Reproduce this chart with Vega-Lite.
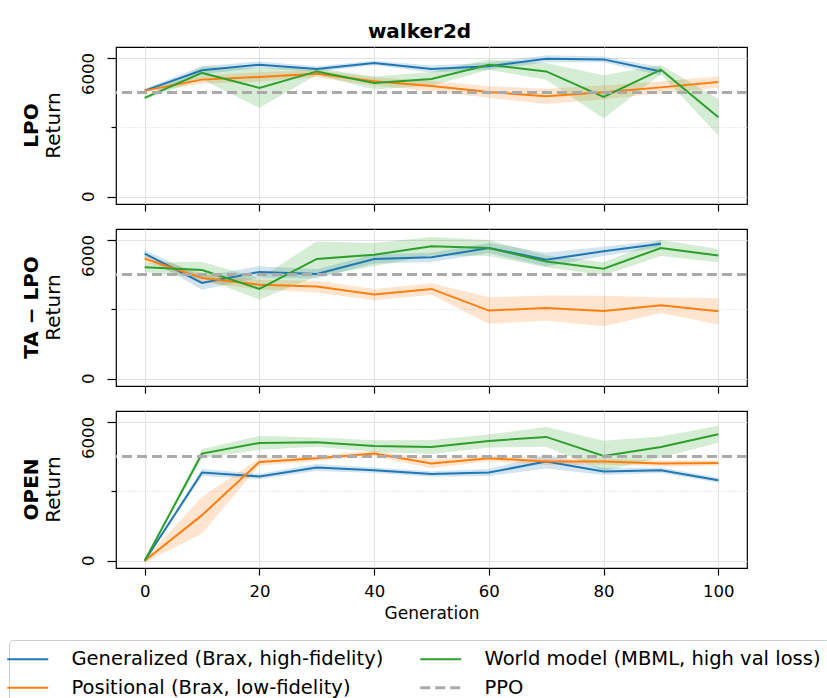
{
  "$schema": "https://vega.github.io/schema/vega-lite/v6.json",
  "autosize": {"type": "pad"},
  "padding": {"left": 8, "top": 22, "right": 0, "bottom": 0},
  "background": "white",
  "title": {"text": "walker2d", "font": "DejaVu Sans", "fontSize": 20, "fontWeight": "bold", "anchor": "middle", "offset": 4, "color": "black"},
  "bounds": "flush",
  "spacing": 25,
  "config": {
    "font": "DejaVu Sans",
    "view": {"stroke": "black", "strokeWidth": 1.2},
    "axisY": {"labels": false}
  },
  "datasets": {
    "runs": [
      {"panel": "LPO", "method": "Generalized (Brax, high-fidelity)", "gen": 0, "mean": 4590, "lo": 4510, "hi": 4670},
      {"panel": "LPO", "method": "Generalized (Brax, high-fidelity)", "gen": 10, "mean": 5470, "lo": 5300, "hi": 5640},
      {"panel": "LPO", "method": "Generalized (Brax, high-fidelity)", "gen": 20, "mean": 5710, "lo": 5570, "hi": 5850},
      {"panel": "LPO", "method": "Generalized (Brax, high-fidelity)", "gen": 30, "mean": 5525, "lo": 5405, "hi": 5645},
      {"panel": "LPO", "method": "Generalized (Brax, high-fidelity)", "gen": 40, "mean": 5785, "lo": 5685, "hi": 5885},
      {"panel": "LPO", "method": "Generalized (Brax, high-fidelity)", "gen": 50, "mean": 5525, "lo": 5375, "hi": 5675},
      {"panel": "LPO", "method": "Generalized (Brax, high-fidelity)", "gen": 60, "mean": 5640, "lo": 5490, "hi": 5790},
      {"panel": "LPO", "method": "Generalized (Brax, high-fidelity)", "gen": 70, "mean": 5970, "lo": 5820, "hi": 6120},
      {"panel": "LPO", "method": "Generalized (Brax, high-fidelity)", "gen": 80, "mean": 5940, "lo": 5820, "hi": 6060},
      {"panel": "LPO", "method": "Generalized (Brax, high-fidelity)", "gen": 90, "mean": 5420, "lo": 5240, "hi": 5600},
      {"panel": "LPO", "method": "Positional (Brax, low-fidelity)", "gen": 0, "mean": 4590, "lo": 4530, "hi": 4650},
      {"panel": "LPO", "method": "Positional (Brax, low-fidelity)", "gen": 10, "mean": 5065, "lo": 4885, "hi": 5245},
      {"panel": "LPO", "method": "Positional (Brax, low-fidelity)", "gen": 20, "mean": 5180, "lo": 4980, "hi": 5380},
      {"panel": "LPO", "method": "Positional (Brax, low-fidelity)", "gen": 30, "mean": 5320, "lo": 5170, "hi": 5470},
      {"panel": "LPO", "method": "Positional (Brax, low-fidelity)", "gen": 40, "mean": 4990, "lo": 4810, "hi": 5170},
      {"panel": "LPO", "method": "Positional (Brax, low-fidelity)", "gen": 50, "mean": 4790, "lo": 4570, "hi": 5010},
      {"panel": "LPO", "method": "Positional (Brax, low-fidelity)", "gen": 60, "mean": 4530, "lo": 4280, "hi": 4780},
      {"panel": "LPO", "method": "Positional (Brax, low-fidelity)", "gen": 70, "mean": 4345, "lo": 4015, "hi": 4675},
      {"panel": "LPO", "method": "Positional (Brax, low-fidelity)", "gen": 80, "mean": 4515, "lo": 4215, "hi": 4815},
      {"panel": "LPO", "method": "Positional (Brax, low-fidelity)", "gen": 90, "mean": 4730, "lo": 4480, "hi": 4980},
      {"panel": "LPO", "method": "Positional (Brax, low-fidelity)", "gen": 100, "mean": 4965, "lo": 4715, "hi": 5215},
      {"panel": "LPO", "method": "World model (MBML, high val loss)", "gen": 0, "mean": 4275, "lo": 4215, "hi": 4335},
      {"panel": "LPO", "method": "World model (MBML, high val loss)", "gen": 10, "mean": 5355, "lo": 5075, "hi": 5635},
      {"panel": "LPO", "method": "World model (MBML, high val loss)", "gen": 20, "mean": 4705, "lo": 3845, "hi": 5565},
      {"panel": "LPO", "method": "World model (MBML, high val loss)", "gen": 30, "mean": 5420, "lo": 5270, "hi": 5570},
      {"panel": "LPO", "method": "World model (MBML, high val loss)", "gen": 40, "mean": 4920, "lo": 4640, "hi": 5200},
      {"panel": "LPO", "method": "World model (MBML, high val loss)", "gen": 50, "mean": 5095, "lo": 4795, "hi": 5395},
      {"panel": "LPO", "method": "World model (MBML, high val loss)", "gen": 60, "mean": 5710, "lo": 5490, "hi": 5930},
      {"panel": "LPO", "method": "World model (MBML, high val loss)", "gen": 70, "mean": 5420, "lo": 5060, "hi": 5780},
      {"panel": "LPO", "method": "World model (MBML, high val loss)", "gen": 80, "mean": 4320, "lo": 3390, "hi": 5250},
      {"panel": "LPO", "method": "World model (MBML, high val loss)", "gen": 90, "mean": 5495, "lo": 5295, "hi": 5695},
      {"panel": "LPO", "method": "World model (MBML, high val loss)", "gen": 100, "mean": 3440, "lo": 2650, "hi": 4230},

      {"panel": "TA-LPO", "method": "Generalized (Brax, high-fidelity)", "gen": 0, "mean": 5410, "lo": 5260, "hi": 5560},
      {"panel": "TA-LPO", "method": "Generalized (Brax, high-fidelity)", "gen": 10, "mean": 4145, "lo": 3855, "hi": 4435},
      {"panel": "TA-LPO", "method": "Generalized (Brax, high-fidelity)", "gen": 20, "mean": 4620, "lo": 4370, "hi": 4870},
      {"panel": "TA-LPO", "method": "Generalized (Brax, high-fidelity)", "gen": 30, "mean": 4535, "lo": 4335, "hi": 4735},
      {"panel": "TA-LPO", "method": "Generalized (Brax, high-fidelity)", "gen": 40, "mean": 5180, "lo": 4980, "hi": 5380},
      {"panel": "TA-LPO", "method": "Generalized (Brax, high-fidelity)", "gen": 50, "mean": 5250, "lo": 5050, "hi": 5450},
      {"panel": "TA-LPO", "method": "Generalized (Brax, high-fidelity)", "gen": 60, "mean": 5655, "lo": 5435, "hi": 5875},
      {"panel": "TA-LPO", "method": "Generalized (Brax, high-fidelity)", "gen": 70, "mean": 5150, "lo": 4850, "hi": 5450},
      {"panel": "TA-LPO", "method": "Generalized (Brax, high-fidelity)", "gen": 80, "mean": 5510, "lo": 5310, "hi": 5710},
      {"panel": "TA-LPO", "method": "Generalized (Brax, high-fidelity)", "gen": 90, "mean": 5840, "lo": 5690, "hi": 5990},
      {"panel": "TA-LPO", "method": "Positional (Brax, low-fidelity)", "gen": 0, "mean": 5195, "lo": 5045, "hi": 5345},
      {"panel": "TA-LPO", "method": "Positional (Brax, low-fidelity)", "gen": 10, "mean": 4360, "lo": 4160, "hi": 4560},
      {"panel": "TA-LPO", "method": "Positional (Brax, low-fidelity)", "gen": 20, "mean": 4070, "lo": 3870, "hi": 4270},
      {"panel": "TA-LPO", "method": "Positional (Brax, low-fidelity)", "gen": 30, "mean": 3985, "lo": 3735, "hi": 4235},
      {"panel": "TA-LPO", "method": "Positional (Brax, low-fidelity)", "gen": 40, "mean": 3640, "lo": 3400, "hi": 3880},
      {"panel": "TA-LPO", "method": "Positional (Brax, low-fidelity)", "gen": 50, "mean": 3885, "lo": 3635, "hi": 4135},
      {"panel": "TA-LPO", "method": "Positional (Brax, low-fidelity)", "gen": 60, "mean": 2950, "lo": 2375, "hi": 3525},
      {"panel": "TA-LPO", "method": "Positional (Brax, low-fidelity)", "gen": 70, "mean": 3065, "lo": 2525, "hi": 3605},
      {"panel": "TA-LPO", "method": "Positional (Brax, low-fidelity)", "gen": 80, "mean": 2935, "lo": 2275, "hi": 3595},
      {"panel": "TA-LPO", "method": "Positional (Brax, low-fidelity)", "gen": 90, "mean": 3180, "lo": 2850, "hi": 3510},
      {"panel": "TA-LPO", "method": "Positional (Brax, low-fidelity)", "gen": 100, "mean": 2920, "lo": 2345, "hi": 3495},
      {"panel": "TA-LPO", "method": "World model (MBML, high val loss)", "gen": 0, "mean": 4820, "lo": 4620, "hi": 5020},
      {"panel": "TA-LPO", "method": "World model (MBML, high val loss)", "gen": 10, "mean": 4705, "lo": 4355, "hi": 5055},
      {"panel": "TA-LPO", "method": "World model (MBML, high val loss)", "gen": 20, "mean": 3885, "lo": 3425, "hi": 4345},
      {"panel": "TA-LPO", "method": "World model (MBML, high val loss)", "gen": 30, "mean": 5180, "lo": 4420, "hi": 5940},
      {"panel": "TA-LPO", "method": "World model (MBML, high val loss)", "gen": 40, "mean": 5365, "lo": 4865, "hi": 5865},
      {"panel": "TA-LPO", "method": "World model (MBML, high val loss)", "gen": 50, "mean": 5725, "lo": 5325, "hi": 6125},
      {"panel": "TA-LPO", "method": "World model (MBML, high val loss)", "gen": 60, "mean": 5655, "lo": 5305, "hi": 6005},
      {"panel": "TA-LPO", "method": "World model (MBML, high val loss)", "gen": 70, "mean": 5075, "lo": 4825, "hi": 5325},
      {"panel": "TA-LPO", "method": "World model (MBML, high val loss)", "gen": 80, "mean": 4760, "lo": 4480, "hi": 5040},
      {"panel": "TA-LPO", "method": "World model (MBML, high val loss)", "gen": 90, "mean": 5655, "lo": 5305, "hi": 6005},
      {"panel": "TA-LPO", "method": "World model (MBML, high val loss)", "gen": 100, "mean": 5325, "lo": 5035, "hi": 5615},

      {"panel": "OPEN", "method": "Generalized (Brax, high-fidelity)", "gen": 0, "mean": 0, "lo": -20, "hi": 20},
      {"panel": "OPEN", "method": "Generalized (Brax, high-fidelity)", "gen": 10, "mean": 3815, "lo": 3665, "hi": 3965},
      {"panel": "OPEN", "method": "Generalized (Brax, high-fidelity)", "gen": 20, "mean": 3645, "lo": 3525, "hi": 3765},
      {"panel": "OPEN", "method": "Generalized (Brax, high-fidelity)", "gen": 30, "mean": 4030, "lo": 3880, "hi": 4180},
      {"panel": "OPEN", "method": "Generalized (Brax, high-fidelity)", "gen": 40, "mean": 3915, "lo": 3795, "hi": 4035},
      {"panel": "OPEN", "method": "Generalized (Brax, high-fidelity)", "gen": 50, "mean": 3755, "lo": 3635, "hi": 3875},
      {"panel": "OPEN", "method": "Generalized (Brax, high-fidelity)", "gen": 60, "mean": 3815, "lo": 3665, "hi": 3965},
      {"panel": "OPEN", "method": "Generalized (Brax, high-fidelity)", "gen": 70, "mean": 4290, "lo": 3990, "hi": 4590},
      {"panel": "OPEN", "method": "Generalized (Brax, high-fidelity)", "gen": 80, "mean": 3860, "lo": 3710, "hi": 4010},
      {"panel": "OPEN", "method": "Generalized (Brax, high-fidelity)", "gen": 90, "mean": 3915, "lo": 3795, "hi": 4035},
      {"panel": "OPEN", "method": "Generalized (Brax, high-fidelity)", "gen": 100, "mean": 3485, "lo": 3385, "hi": 3585},
      {"panel": "OPEN", "method": "Positional (Brax, low-fidelity)", "gen": 0, "mean": 0, "lo": -80, "hi": 80},
      {"panel": "OPEN", "method": "Positional (Brax, low-fidelity)", "gen": 10, "mean": 1975, "lo": 1185, "hi": 2765},
      {"panel": "OPEN", "method": "Positional (Brax, low-fidelity)", "gen": 20, "mean": 4275, "lo": 4125, "hi": 4425},
      {"panel": "OPEN", "method": "Positional (Brax, low-fidelity)", "gen": 30, "mean": 4435, "lo": 4315, "hi": 4555},
      {"panel": "OPEN", "method": "Positional (Brax, low-fidelity)", "gen": 40, "mean": 4635, "lo": 4515, "hi": 4755},
      {"panel": "OPEN", "method": "Positional (Brax, low-fidelity)", "gen": 50, "mean": 4205, "lo": 4005, "hi": 4405},
      {"panel": "OPEN", "method": "Positional (Brax, low-fidelity)", "gen": 60, "mean": 4435, "lo": 4315, "hi": 4555},
      {"panel": "OPEN", "method": "Positional (Brax, low-fidelity)", "gen": 70, "mean": 4290, "lo": 4140, "hi": 4440},
      {"panel": "OPEN", "method": "Positional (Brax, low-fidelity)", "gen": 80, "mean": 4290, "lo": 4160, "hi": 4420},
      {"panel": "OPEN", "method": "Positional (Brax, low-fidelity)", "gen": 90, "mean": 4205, "lo": 4075, "hi": 4335},
      {"panel": "OPEN", "method": "Positional (Brax, low-fidelity)", "gen": 100, "mean": 4230, "lo": 4110, "hi": 4350},
      {"panel": "OPEN", "method": "World model (MBML, high val loss)", "gen": 0, "mean": 0, "lo": -20, "hi": 20},
      {"panel": "OPEN", "method": "World model (MBML, high val loss)", "gen": 10, "mean": 4635, "lo": 4435, "hi": 4835},
      {"panel": "OPEN", "method": "World model (MBML, high val loss)", "gen": 20, "mean": 5095, "lo": 4795, "hi": 5395},
      {"panel": "OPEN", "method": "World model (MBML, high val loss)", "gen": 30, "mean": 5125, "lo": 4925, "hi": 5325},
      {"panel": "OPEN", "method": "World model (MBML, high val loss)", "gen": 40, "mean": 4965, "lo": 4715, "hi": 5215},
      {"panel": "OPEN", "method": "World model (MBML, high val loss)", "gen": 50, "mean": 4920, "lo": 4620, "hi": 5220},
      {"panel": "OPEN", "method": "World model (MBML, high val loss)", "gen": 60, "mean": 5180, "lo": 4900, "hi": 5460},
      {"panel": "OPEN", "method": "World model (MBML, high val loss)", "gen": 70, "mean": 5355, "lo": 4925, "hi": 5785},
      {"panel": "OPEN", "method": "World model (MBML, high val loss)", "gen": 80, "mean": 4535, "lo": 3885, "hi": 5185},
      {"panel": "OPEN", "method": "World model (MBML, high val loss)", "gen": 90, "mean": 4920, "lo": 4470, "hi": 5370},
      {"panel": "OPEN", "method": "World model (MBML, high val loss)", "gen": 100, "mean": 5470, "lo": 5100, "hi": 5840}
    ],
    "ppo": [
      {"method": "PPO", "ret": 4510}
    ],
    "yticks": [
      {"tick": 6000, "label": "6000"},
      {"tick": 0, "label": "0"}
    ]
  },
  "vconcat": [
    {
      "width": 631,
      "height": 157,
      "title": {"text": "LPO", "subtitle": "Return", "orient": "left", "anchor": "middle", "font": "DejaVu Sans", "fontSize": 20, "fontWeight": "bold", "color": "black", "subtitleFont": "DejaVu Sans", "subtitleFontSize": 20, "subtitleFontWeight": "normal", "subtitleColor": "black", "subtitlePadding": 2, "offset": 17},
      "layer": [
        {
          "data": {"name": "runs"},
          "transform": [{"filter": "datum.panel === 'LPO'"}],
          "mark": {"type": "area", "opacity": 0.2},
          "encoding": {
            "x": {"field": "gen", "type": "quantitative", "scale": {"domain": [-5, 105], "nice": false, "zero": false}, "axis": {"title": null, "values": [0, 20, 40, 60, 80, 100], "labels": false, "tickColor": "black", "tickSize": 7, "tickWidth": 1.2, "domain": false, "grid": true, "gridColor": "#e2e2e2", "gridWidth": 1}},
            "y": {"field": "lo", "type": "quantitative", "scale": {"domain": [-310, 6475], "nice": false, "zero": false}, "axis": {"title": null, "values": [0, 1500, 3000, 4500, 6000], "labels": false, "tickColor": "black", "tickWidth": 1.2, "tickSize": {"condition": {"test": "datum.value == 0 || datum.value == 6000", "value": 9}, "value": 5}, "domain": false, "grid": true, "gridColor": {"condition": {"test": "datum.value == 0 || datum.value == 6000", "value": "#e2e2e2"}, "value": "#d8d8d8"}, "gridDash": {"condition": {"test": "datum.value == 0 || datum.value == 6000", "value": []}, "value": [1, 2]}, "gridWidth": 1}},
            "y2": {"field": "hi"},
            "color": {"field": "method", "type": "nominal"}
          }
        },
        {
          "data": {"name": "runs"},
          "transform": [{"filter": "datum.panel === 'LPO'"}],
          "mark": {"type": "line", "strokeWidth": 2},
          "encoding": {
            "x": {"field": "gen", "type": "quantitative"},
            "y": {"field": "mean", "type": "quantitative", "axis": {"labels": false}},
            "color": {"field": "method", "type": "nominal"}
          }
        },
        {
          "data": {"name": "ppo"},
          "mark": {"type": "rule", "strokeDash": [10, 5], "strokeWidth": 3},
          "encoding": {
            "y": {"field": "ret", "type": "quantitative", "axis": {"labels": false}},
            "color": {"field": "method", "type": "nominal"}
          }
        },
        {
          "data": {"name": "yticks"},
          "transform": [{"filter": "datum.tick == 6000"}],
          "mark": {"type": "text", "angle": 270, "align": "right", "baseline": "middle", "dx": 5, "dy": -27, "font": "DejaVu Sans", "fontSize": 16.5, "color": "black"},
          "encoding": {
            "x": {"datum": -5, "type": "quantitative"},
            "y": {"field": "tick", "type": "quantitative", "axis": {"labels": false}},
            "text": {"field": "label"}
          }
        },
        {
          "data": {"name": "yticks"},
          "transform": [{"filter": "datum.tick == 0"}],
          "mark": {"type": "text", "angle": 270, "align": "center", "baseline": "middle", "dy": -27, "font": "DejaVu Sans", "fontSize": 16.5, "color": "black"},
          "encoding": {
            "x": {"datum": -5, "type": "quantitative"},
            "y": {"field": "tick", "type": "quantitative", "axis": {"labels": false}},
            "text": {"field": "label"}
          }
        }
      ]
    },
    {
      "width": 631,
      "height": 157,
      "title": {"text": "TA − LPO", "subtitle": "Return", "orient": "left", "anchor": "middle", "font": "DejaVu Sans", "fontSize": 20, "fontWeight": "bold", "color": "black", "subtitleFont": "DejaVu Sans", "subtitleFontSize": 20, "subtitleFontWeight": "normal", "subtitleColor": "black", "subtitlePadding": 2, "offset": 17},
      "layer": [
        {
          "data": {"name": "runs"},
          "transform": [{"filter": "datum.panel === 'TA-LPO'"}],
          "mark": {"type": "area", "opacity": 0.2},
          "encoding": {
            "x": {"field": "gen", "type": "quantitative", "scale": {"domain": [-5, 105], "nice": false, "zero": false}, "axis": {"title": null, "values": [0, 20, 40, 60, 80, 100], "labels": false, "tickColor": "black", "tickSize": 7, "tickWidth": 1.2, "domain": false, "grid": true, "gridColor": "#e2e2e2", "gridWidth": 1}},
            "y": {"field": "lo", "type": "quantitative", "scale": {"domain": [-310, 6475], "nice": false, "zero": false}, "axis": {"title": null, "values": [0, 1500, 3000, 4500, 6000], "labels": false, "tickColor": "black", "tickWidth": 1.2, "tickSize": {"condition": {"test": "datum.value == 0 || datum.value == 6000", "value": 9}, "value": 5}, "domain": false, "grid": true, "gridColor": {"condition": {"test": "datum.value == 0 || datum.value == 6000", "value": "#e2e2e2"}, "value": "#d8d8d8"}, "gridDash": {"condition": {"test": "datum.value == 0 || datum.value == 6000", "value": []}, "value": [1, 2]}, "gridWidth": 1}},
            "y2": {"field": "hi"},
            "color": {"field": "method", "type": "nominal"}
          }
        },
        {
          "data": {"name": "runs"},
          "transform": [{"filter": "datum.panel === 'TA-LPO'"}],
          "mark": {"type": "line", "strokeWidth": 2},
          "encoding": {
            "x": {"field": "gen", "type": "quantitative"},
            "y": {"field": "mean", "type": "quantitative", "axis": {"labels": false}},
            "color": {"field": "method", "type": "nominal"}
          }
        },
        {
          "data": {"name": "ppo"},
          "mark": {"type": "rule", "strokeDash": [10, 5], "strokeWidth": 3},
          "encoding": {
            "y": {"field": "ret", "type": "quantitative", "axis": {"labels": false}},
            "color": {"field": "method", "type": "nominal"}
          }
        },
        {
          "data": {"name": "yticks"},
          "transform": [{"filter": "datum.tick == 6000"}],
          "mark": {"type": "text", "angle": 270, "align": "right", "baseline": "middle", "dx": 5, "dy": -27, "font": "DejaVu Sans", "fontSize": 16.5, "color": "black"},
          "encoding": {
            "x": {"datum": -5, "type": "quantitative"},
            "y": {"field": "tick", "type": "quantitative", "axis": {"labels": false}},
            "text": {"field": "label"}
          }
        },
        {
          "data": {"name": "yticks"},
          "transform": [{"filter": "datum.tick == 0"}],
          "mark": {"type": "text", "angle": 270, "align": "center", "baseline": "middle", "dy": -27, "font": "DejaVu Sans", "fontSize": 16.5, "color": "black"},
          "encoding": {
            "x": {"datum": -5, "type": "quantitative"},
            "y": {"field": "tick", "type": "quantitative", "axis": {"labels": false}},
            "text": {"field": "label"}
          }
        }
      ]
    },
    {
      "width": 631,
      "height": 157,
      "title": {"text": "OPEN", "subtitle": "Return", "orient": "left", "anchor": "middle", "font": "DejaVu Sans", "fontSize": 20, "fontWeight": "bold", "color": "black", "subtitleFont": "DejaVu Sans", "subtitleFontSize": 20, "subtitleFontWeight": "normal", "subtitleColor": "black", "subtitlePadding": 2, "offset": 17},
      "layer": [
        {
          "data": {"name": "runs"},
          "transform": [{"filter": "datum.panel === 'OPEN'"}],
          "mark": {"type": "area", "opacity": 0.2},
          "encoding": {
            "x": {"field": "gen", "type": "quantitative", "scale": {"domain": [-5, 105], "nice": false, "zero": false}, "axis": {"title": "Generation", "values": [0, 20, 40, 60, 80, 100], "labelFont": "DejaVu Sans", "labelFontSize": 16.5, "labelColor": "black", "labelPadding": 8, "titleFont": "DejaVu Sans", "titleFontSize": 17, "titleFontWeight": "normal", "titleColor": "black", "titlePadding": 6, "tickColor": "black", "tickSize": 7, "tickWidth": 1.2, "domain": false, "grid": true, "gridColor": "#e2e2e2", "gridWidth": 1}},
            "y": {"field": "lo", "type": "quantitative", "scale": {"domain": [-310, 6475], "nice": false, "zero": false}, "axis": {"title": null, "values": [0, 1500, 3000, 4500, 6000], "labels": false, "tickColor": "black", "tickWidth": 1.2, "tickSize": {"condition": {"test": "datum.value == 0 || datum.value == 6000", "value": 9}, "value": 5}, "domain": false, "grid": true, "gridColor": {"condition": {"test": "datum.value == 0 || datum.value == 6000", "value": "#e2e2e2"}, "value": "#d8d8d8"}, "gridDash": {"condition": {"test": "datum.value == 0 || datum.value == 6000", "value": []}, "value": [1, 2]}, "gridWidth": 1}},
            "y2": {"field": "hi"},
            "color": {"field": "method", "type": "nominal"}
          }
        },
        {
          "data": {"name": "runs"},
          "transform": [{"filter": "datum.panel === 'OPEN'"}],
          "mark": {"type": "line", "strokeWidth": 2},
          "encoding": {
            "x": {"field": "gen", "type": "quantitative"},
            "y": {"field": "mean", "type": "quantitative", "axis": {"labels": false}},
            "color": {"field": "method", "type": "nominal"}
          }
        },
        {
          "data": {"name": "yticks"},
          "transform": [{"filter": "datum.tick == 6000"}],
          "mark": {"type": "text", "angle": 270, "align": "right", "baseline": "middle", "dx": 5, "dy": -27, "font": "DejaVu Sans", "fontSize": 16.5, "color": "black"},
          "encoding": {
            "x": {"datum": -5, "type": "quantitative"},
            "y": {"field": "tick", "type": "quantitative", "axis": {"labels": false}},
            "text": {"field": "label"}
          }
        },
        {
          "data": {"name": "yticks"},
          "transform": [{"filter": "datum.tick == 0"}],
          "mark": {"type": "text", "angle": 270, "align": "center", "baseline": "middle", "dy": -27, "font": "DejaVu Sans", "fontSize": 16.5, "color": "black"},
          "encoding": {
            "x": {"datum": -5, "type": "quantitative"},
            "y": {"field": "tick", "type": "quantitative", "axis": {"labels": false}},
            "text": {"field": "label"}
          }
        },
        {
          "data": {"name": "ppo"},
          "mark": {"type": "rule", "strokeDash": [10, 5], "strokeWidth": 3},
          "encoding": {
            "y": {"field": "ret", "type": "quantitative", "axis": {"labels": false}},
            "color": {
              "field": "method",
              "type": "nominal",
              "scale": {
                "domain": ["Generalized (Brax, high-fidelity)", "Positional (Brax, low-fidelity)", "World model (MBML, high val loss)", "PPO"],
                "range": ["#1f77b4", "#ff7f0e", "#2ca02c", "#aaaaaa"]
              },
              "legend": {
                "title": null,
                "orient": "none",
                "legendX": -107,
                "legendY": 593,
                "columns": 2,
                "symbolType": "stroke",
                "symbolSize": 1681,
                "symbolStrokeWidth": 2,
                "labelFont": "DejaVu Sans",
                "labelFontSize": 19.5,
                "labelColor": "black",
                "labelLimit": 0,
                "labelOffset": 34,
                "columnPadding": 30,
                "rowPadding": 8,
                "padding": 9,
                "strokeColor": "#cccccc",
                "fillColor": "white",
                "cornerRadius": 4,
                "encode": {
                  "symbols": {
                    "update": {
                      "strokeDash": {"signal": "datum.value === 'PPO' ? [10, 5] : []"},
                      "strokeWidth": {"signal": "datum.value === 'PPO' ? 3 : 2"}
                    }
                  }
                }
              }
            }
          }
        }
      ]
    }
  ]
}
